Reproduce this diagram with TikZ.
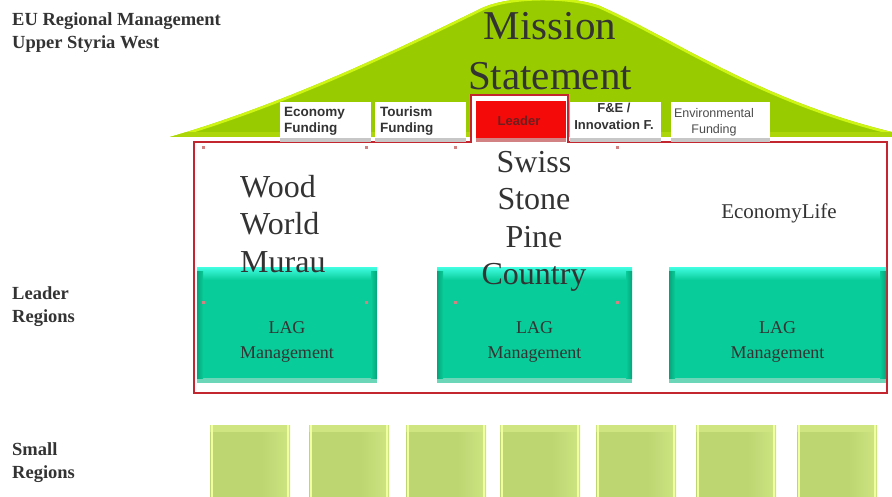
\documentclass[tikz,border=0pt]{standalone}
\usepackage{fontspec}
\setmainfont{Liberation Serif}
\newfontfamily\tabfont{Liberation Sans}
\usetikzlibrary{shadows}
\definecolor{mound}{RGB}{153,204,0}
\definecolor{moundlight}{RGB}{206,245,20}
\definecolor{moundbot}{RGB}{172,214,10}
\definecolor{txt}{RGB}{51,51,51}
\definecolor{teal}{RGB}{8,204,153}
\definecolor{teallight}{RGB}{60,250,220}
\definecolor{tealbot}{RGB}{108,214,184}
\definecolor{redline}{RGB}{196,38,48}
\definecolor{leaderred}{RGB}{245,10,10}
\definecolor{sgreen}{RGB}{189,214,114}
\definecolor{sgreenlight}{RGB}{206,229,130}
\definecolor{sgreenedge}{RGB}{240,255,160}
\definecolor{marker}{RGB}{210,130,130}
\tikzset{
  hdr/.style={font=\fontsize{18.5}{23}\selectfont\bfseries, text=txt, align=left, inner sep=0pt},
  tabbox/.style={fill=white, minimum width=91pt, minimum height=36pt, inner sep=0pt,
     general shadow={fill=black!22, shadow yshift=-4pt}},
  tabtxt/.style={font=\tabfont\fontsize{13.5}{16}\selectfont\bfseries, text=txt, align=left, inner sep=0pt},
  lagtxt/.style={font=\fontsize{18}{25}\selectfont, text=txt, align=center, inner sep=0pt},
  bigtxt/.style={font=\fontsize{32}{37.5}\selectfont, text=txt, inner sep=0pt},
  smallsq/.style={fill=sgreen, minimum width=80pt, minimum height=72pt, inner sep=0pt},
}
\def\moundpath{(170,137) .. controls (290,102) and (400,48) .. (482,8) .. controls (510,-5) and (570,-5) .. (600,6) .. controls (680,42) and (760,100) .. (892,132)}
\begin{document}
\begin{tikzpicture}[x=1pt,y=-1pt]
\useasboundingbox (0,0) rectangle (892,497);

% mound
\path[fill=mound] \moundpath -- (892,137) -- cycle;
\begin{scope}
\clip \moundpath -- (892,137) -- cycle;
\draw[moundlight, line width=5pt] \moundpath;
\fill[moundbot] (160,132) rectangle (892,137);
\end{scope}

% headers
\node[hdr, anchor=north west] (eu) at (12,12) {EU Regional Management\\Upper Styria West};
\node[hdr, anchor=north west] (leaderreg) at (12,286) {Leader\\Regions};
\node[hdr, anchor=north west] (smallreg) at (12,442) {Small\\Regions};

% mission statement
\node[font=\fontsize{41}{50}\selectfont, text=txt, align=center, inner sep=0pt, anchor=north] (mission) at (550,12) {Mission\\Statement};

% red outline with notch
\fill[white] (471,95) rectangle (568,142);
\draw[white, line width=3pt, dash pattern=on 3pt off 3pt] (474,142) -- (474,98) -- (566,98);
\draw[redline, line width=2.2pt] (194,142) -- (471,142) -- (471,95) -- (568,95) -- (568,142) -- (887,142) -- (887,393) -- (194,393) -- cycle;

% tabs
\node[tabbox] (econ) at (325,120) {};
\node[tabtxt, anchor=west] (econt) at (284,121) {Economy\\ Funding};
\node[tabbox] (tour) at (420.5,120) {};
\node[tabtxt, anchor=west] (tourt) at (380,121) {Tourism\\Funding};
\node[fill=leaderred, minimum width=90pt, minimum height=37pt, inner sep=0pt,
      general shadow={fill=marker, shadow yshift=-4pt}] (leader) at (521,119.5) {};
\node[font=\tabfont\fontsize{13}{14}\selectfont\bfseries, text={rgb,255:red,110;green,30;blue,30}] (leadert) at (519,121) {Leader};
\node[tabbox] (fe) at (615,120) {};
\node[tabtxt, align=center, font=\tabfont\fontsize{13}{17}\selectfont\bfseries] (fet) at (614,116.5) {F\&E /\\Innovation F.};
\node[tabbox, minimum width=99pt] (env) at (720.5,120) {};
\node[tabtxt, align=center, font=\tabfont\fontsize{12.5}{16}\selectfont, text=black!70] (envt) at (714,122) {Environmental\\Funding};

% teal LAG boxes
\foreach \n/\a/\b in {lagA/197/377, lagB/437/632, lagC/669/886}{
  \fill[tealbot] (\a,377) rectangle (\b,383);
  \fill[teal] (\a,268) rectangle (\b,378);
  \shade[top color=teallight, bottom color=teal] (\a,268) rectangle (\b,280);
  \shade[left color=teal!80!black, right color=teal] (\a,272) rectangle (\a+6,378);
  \shade[left color=teal, right color=teal!80!black] (\b-6,272) rectangle (\b,378);
}
\node[lagtxt] (lag1) at (287,342) {LAG\\Management};
\node[lagtxt] (lag2) at (534.5,342) {LAG\\Management};
\node[lagtxt] (lag3) at (777.5,342) {LAG\\Management};

% big labels
\node[bigtxt, align=left, anchor=north west] (wood) at (240,175) {Wood\\World\\Murau};
\node[bigtxt, align=center, anchor=north] (swiss) at (534,151) {Swiss\\Stone\\Pine\\Country};
\node[font=\fontsize{21}{24}\selectfont, text=txt, inner sep=0pt] (ecolife) at (779,213) {EconomyLife};

% markers
\foreach \x/\y in {203/148, 366/148, 455/148, 617/148, 203/302, 366/302, 455/302, 617/302}{
  \fill[marker] (\x-1.5,\y-1.5) rectangle (\x+1.5,\y+1.5);
}

% small regions
\foreach \n/\a in {s1/210, s2/309, s3/406, s4/500, s5/596, s6/696, s7/797}{
  \node[smallsq, anchor=north west] (\n) at (\a,425) {};
  \shade[left color=sgreen, right color=sgreenlight] (\a+52,425) rectangle (\a+80,497);
  \fill[sgreenlight] (\a,425) rectangle (\a+80,432);
  \fill[sgreenedge] (\a+1,425) rectangle (\a+3,497);
  \fill[sgreenedge] (\a+77,425) rectangle (\a+79,497);
}
\end{tikzpicture}
\end{document}
